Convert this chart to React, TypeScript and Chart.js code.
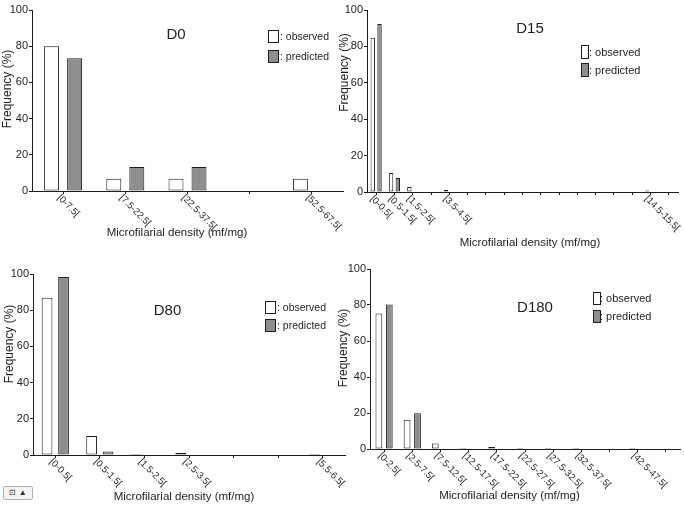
import React, { useEffect, useRef } from "react";
import { Chart, registerables } from "chart.js";
Chart.register(...registerables);

// ---------- DATA ----------
const d0Categories = ["[0-7.5[", "[7.5-22.5[", "[22.5-37.5[", "[37.5-52.5[", "[52.5-67.5["];
const d0TickLabels = ["[0-7.5[", "[7.5-22.5[", "[22.5-37.5[", "", "[52.5-67.5["];
const d0Observed = [80, 6.7, 6.7, 0, 6.7];
const d0Predicted = [73.3, 13.3, 13.3, 0, 0];

const d15Categories = [
  "[0-0.5[", "[0.5-1.5[", "[1.5-2.5[", "[2.5-3.5[", "[3.5-4.5[", "[4.5-5.5[", "[5.5-6.5[",
  "[6.5-7.5[", "[7.5-8.5[", "[8.5-9.5[", "[9.5-10.5[", "[10.5-11.5[", "[11.5-12.5[",
  "[12.5-13.5[", "[13.5-14.5[", "[14.5-15.5[", "[15.5-16.5[",
];
const d15TickLabels = [
  "[0-0.5[", "[0.5-1.5[", "[1.5-2.5[", "", "[3.5-4.5[", "", "", "", "", "", "", "", "", "", "",
  "[14.5-15.5[", "",
];
const d15Observed = [84.8, 10.4, 2.7, 0, 1.3, 0, 0, 0, 0, 0, 0, 0, 0, 0, 0, 0.8, 0];
const d15Predicted = [92.3, 7.7, 0, 0, 0, 0, 0, 0, 0, 0, 0, 0, 0, 0, 0, 0, 0];

const d80Categories = ["[0-0.5[", "[0.5-1.5[", "[1.5-2.5[", "[2.5-3.5[", "[3.5-4.5[", "[4.5-5.5[", "[5.5-6.5["];
const d80TickLabels = ["[0-0.5[", "[0.5-1.5[", "[1.5-2.5[", "[2.5-3.5[", "", "", "[5.5-6.5["];
const d80Observed = [86.9, 10.5, 0.6, 1.3, 0, 0, 0.5];
const d80Predicted = [98.3, 2.0, 0.3, 0, 0, 0, 0];

const d180Categories = [
  "[0-2.5[", "[2.5-7.5[", "[7.5-12.5[", "[12.5-17.5[", "[17.5-22.5[", "[22.5-27.5[",
  "[27.5-32.5[", "[32.5-37.5[", "[37.5-42.5[", "[42.5-47.5[", "[47.5-52.5[",
];
const d180TickLabels = [
  "[0-2.5[", "[2.5-7.5[", "[7.5-12.5[", "[12.5-17.5[", "[17.5-22.5[", "[22.5-27.5[",
  "[27.5-32.5[", "[32.5-37.5[", "", "[42.5-47.5[", "",
];
const d180Observed = [75.3, 16.2, 3.1, 0.6, 1.1, 0.6, 0.6, 0.6, 0, 0.6, 0];
const d180Predicted = [80.3, 19.9, 0, 0, 0, 0, 0, 0, 0, 0, 0];

const yTicks = [0, 20, 40, 60, 80, 100];
const xTitleText = "Microfilarial density (mf/mg)";
const yTitleText = "Frequency (%)";
const legendObserved = ": observed";
const legendPredicted = ": predicted";

// ---------- LAYOUT / STYLE ----------
const FONT = '"Liberation Sans", Arial, Helvetica, sans-serif';
const INK = "#1e1e1e";
const GRAY = "#8e8e8e";

type Panel = {
  title: string;
  categories: string[];
  tickLabels: string[];
  observed: number[];
  predicted: number[];
  box: { left: number; top: number; width: number; height: number };
  area: { left: number; top: number; right: number; bottom: number };
  titlePos: [number, number];
  legend: { boxX: number; boxW: number; boxH: number; y1: number; y2: number; textX: number; font: number };
  yTitle: [number, number];
  xTitle: [number, number];
};

const panels: Panel[] = [
  {
    title: "D0", categories: d0Categories, tickLabels: d0TickLabels, observed: d0Observed, predicted: d0Predicted,
    box: { left: 0, top: 0, width: 345, height: 255 },
    area: { left: 32, top: 10, right: 343, bottom: 191 },
    titlePos: [176, 35],
    legend: { boxX: 268, boxW: 10, boxH: 12, y1: 30, y2: 50, textX: 280, font: 10.5 },
    yTitle: [8, 89], xTitle: [177, 233],
  },
  {
    title: "D15", categories: d15Categories, tickLabels: d15TickLabels, observed: d15Observed, predicted: d15Predicted,
    box: { left: 334, top: 0, width: 350, height: 255 },
    area: { left: 33, top: 10, right: 344, bottom: 192 },
    titlePos: [196, 28.5],
    legend: { boxX: 247, boxW: 7, boxH: 13, y1: 45, y2: 63, textX: 255, font: 11 },
    yTitle: [11, 72.5], xTitle: [196, 242.5],
  },
  {
    title: "D80", categories: d80Categories, tickLabels: d80TickLabels, observed: d80Observed, predicted: d80Predicted,
    box: { left: 0, top: 255, width: 347, height: 255 },
    area: { left: 33, top: 19, right: 345, bottom: 200 },
    titlePos: [167.5, 56],
    legend: { boxX: 265, boxW: 10, boxH: 12, y1: 46, y2: 64, textX: 277, font: 10.5 },
    yTitle: [10, 89], xTitle: [184, 241.5],
  },
  {
    title: "D180", categories: d180Categories, tickLabels: d180TickLabels, observed: d180Observed, predicted: d180Predicted,
    box: { left: 337, top: 255, width: 347, height: 255 },
    area: { left: 33, top: 14, right: 343, bottom: 194 },
    titlePos: [198, 52.5],
    legend: { boxX: 256, boxW: 7, boxH: 12, y1: 37, y2: 55, textX: 263, font: 11 },
    yTitle: [7, 93], xTitle: [172.5, 240.5],
  },
];

const nz = (arr: number[]) => arr.map((v) => (v === 0 ? null : v));

function PanelChart({ p }: { p: Panel }) {
  const ref = useRef<HTMLCanvasElement | null>(null);
  useEffect(() => {
    if (!ref.current) return;
    const decor = {
      id: "decor",
      afterDraw(chart: any) {
        const ctx = chart.ctx as CanvasRenderingContext2D;
        const xs = chart.scales.x;
        const ca = chart.chartArea;
        ctx.save();
        ctx.fillStyle = INK;
        // rotated x tick labels
        ctx.font = `9.5px ${FONT}`;
        p.tickLabels.forEach((lbl, i) => {
          if (!lbl) return;
          const px = xs.getPixelForTick(i);
          ctx.save();
          ctx.translate(px - 1, ca.bottom + 2);
          ctx.rotate(Math.PI / 4);
          ctx.textAlign = "left";
          ctx.textBaseline = "top";
          ctx.fillText(lbl, 0, 0);
          ctx.restore();
        });
        // panel title
        ctx.font = `15px ${FONT}`;
        ctx.textAlign = "center";
        ctx.textBaseline = "middle";
        ctx.fillText(p.title, p.titlePos[0], p.titlePos[1]);
        // axis titles
        ctx.font = `11.5px ${FONT}`;
        ctx.fillText(xTitleText, p.xTitle[0], p.xTitle[1]);
        ctx.save();
        ctx.font = `12px ${FONT}`;
        ctx.translate(p.yTitle[0], p.yTitle[1]);
        ctx.rotate(-Math.PI / 2);
        ctx.fillText(yTitleText, 0, 0);
        ctx.restore();
        // legend
        const L = p.legend;
        ctx.lineWidth = 1;
        ctx.strokeStyle = INK;
        ctx.fillStyle = "#ffffff";
        ctx.fillRect(L.boxX + 0.5, L.y1 + 0.5, L.boxW, L.boxH);
        ctx.strokeRect(L.boxX + 0.5, L.y1 + 0.5, L.boxW, L.boxH);
        ctx.fillStyle = GRAY;
        ctx.fillRect(L.boxX + 0.5, L.y2 + 0.5, L.boxW, L.boxH);
        ctx.strokeRect(L.boxX + 0.5, L.y2 + 0.5, L.boxW, L.boxH);
        ctx.fillStyle = INK;
        ctx.font = `${L.font}px ${FONT}`;
        ctx.textAlign = "left";
        ctx.textBaseline = "middle";
        ctx.fillText(legendObserved, L.textX, L.y1 + L.boxH / 2 + 1);
        ctx.fillText(legendPredicted, L.textX, L.y2 + L.boxH / 2 + 1);
        ctx.restore();
      },
    };
    const chart = new Chart(ref.current, {
      type: "bar",
      data: {
        labels: p.categories,
        datasets: [
          {
            label: "observed",
            data: nz(p.observed) as any,
            backgroundColor: "#ffffff",
            borderColor: INK,
            borderWidth: 1,
            borderSkipped: false,
          },
          {
            label: "predicted",
            data: nz(p.predicted) as any,
            backgroundColor: GRAY,
            borderColor: INK,
            borderWidth: 1,
            borderSkipped: false,
          },
        ],
      },
      options: {
        responsive: false,
        maintainAspectRatio: false,
        animation: false,
        devicePixelRatio: 1,
        events: [],
        layout: {
          padding: { top: p.area.top, right: p.box.width - p.area.right, left: 0, bottom: 0 },
        },
        datasets: { bar: { categoryPercentage: 0.74, barPercentage: 0.65 } },
        plugins: { legend: { display: false }, tooltip: { enabled: false }, title: { display: false } },
        scales: {
          x: {
            type: "category",
            offset: true,
            grid: { display: true, drawOnChartArea: false, drawTicks: true, tickLength: 3, offset: false, color: INK, lineWidth: 1 },
            border: { display: true, color: INK, width: 1 },
            ticks: { display: false, autoSkip: false },
            afterFit: (s: any) => {
              s.height = p.box.height - p.area.bottom;
            },
          },
          y: {
            min: 0,
            max: 100,
            afterBuildTicks: (s: any) => {
              s.ticks = yTicks.map((v) => ({ value: v }));
            },
            ticks: { color: INK, font: { family: FONT, size: 11 }, padding: 1 },
            grid: { display: true, drawOnChartArea: false, drawTicks: true, tickLength: 3, color: INK, lineWidth: 1 },
            border: { display: true, color: INK, width: 1 },
            afterFit: (s: any) => {
              s.width = p.area.left;
            },
          },
        },
      } as any,
      plugins: [decor],
    });
    return () => chart.destroy();
  }, [p]);
  return (
    <canvas
      ref={ref}
      width={p.box.width}
      height={p.box.height}
      style={{ position: "absolute", left: p.box.left, top: p.box.top, width: p.box.width, height: p.box.height }}
    />
  );
}

export default function App() {
  return (
    <div style={{ position: "fixed", left: 0, top: 0, width: 684, height: 510, background: "#ffffff", overflow: "hidden" }}>
      {panels.map((p) => (
        <PanelChart key={p.title} p={p} />
      ))}
      <div
        style={{
          position: "absolute", left: 3, top: 486, width: 30, height: 14, border: "1px solid #b0b0b0",
          borderRadius: 2, background: "#f4f4f4", fontSize: 8, lineHeight: "12px", fontFamily: FONT,
          color: "#333", textAlign: "center", boxSizing: "border-box",
        }}
      >
        ⊡ ▲
      </div>
    </div>
  );
}
